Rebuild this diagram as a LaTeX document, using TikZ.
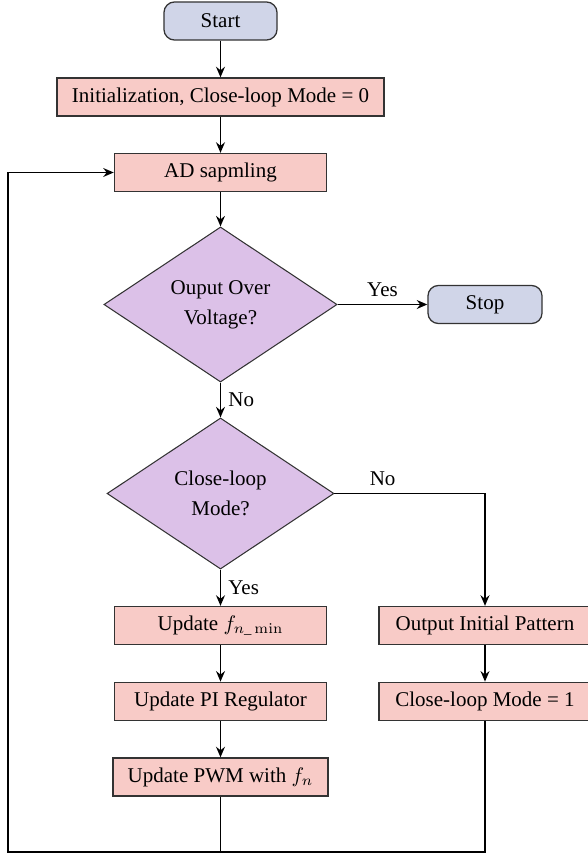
\documentclass[tikz,border=0pt]{standalone}
\usepackage[no-math]{fontspec}
\setmainfont{Liberation Serif}
\usepackage{amssymb,amsmath}
\usepackage{tikz}
\usepackage{xcolor}
\usetikzlibrary{arrows,arrows.meta,shapes.geometric}

\definecolor{termfill}{RGB}{208,213,232}
\definecolor{procfill}{RGB}{248,203,199}
\definecolor{decfill}{RGB}{220,193,232}

\begin{document}
\begin{tikzpicture}[x=0.476pt,y=-0.476pt,
  term/.style={draw=black!80,line width=0.6pt,fill=termfill,rounded corners=5pt,minimum height=18.1pt,inner sep=2pt},
  proc/.style={draw=black!80,line width=0.6pt,fill=procfill,minimum width=101pt,minimum height=18.1pt,inner sep=2pt},
  dec/.style={diamond,draw=black!80,line width=0.5pt,fill=decfill,align=center,inner sep=0pt,font=\linespread{1.2}\selectfont},
  line/.style={line width=0.85pt,-{Stealth[length=5pt,width=4.2pt]}}]

\useasboundingbox (0,0) rectangle (588,858);

\node[term,minimum width=53.8pt] (0) at (220.5,21){Start};
\node[proc,minimum width=155.7pt] (1) at (220.5,97){Initialization, Close-loop Mode = 0};
\node[proc] (2) at (220.5,172.5){AD sapmling};
\node[dec,minimum width=111pt,minimum height=73.8pt] (3) at (220.5,304.5){Ouput Over\\Voltage?};
\node[term,minimum width=54.3pt] (4) at (485,304.5){Stop};
\node[dec,minimum width=108pt,minimum height=71.9pt] (5) at (220.5,493.5){Close-loop\\Mode?};
\node[proc] (6) at (220.5,625.5){Update $f_{n\_\min}$};
\node[proc] (7) at (485,625.5){Output Initial Pattern};
\node[proc] (8) at (220.5,701.3){Update PI Regulator};
\node[proc] (9) at (485,701.3){Close-loop Mode = 1};
\node[proc,minimum width=102.4pt] (10) at (220.5,777){Update PWM with $f_n$};
\coordinate (11) at (8,852);
\draw[line] (0) -- (1);
\draw[line] (1) -- (2);
\draw[line] (2) -- (3);
\draw[line] (3) -- node[above]{Yes} (4);
\draw[line] (3) -- node[right]{No} (5);
\draw[line] (5) -- node[right]{Yes} (6);
\draw[line] (5) -| node[pos=0.16,above]{No} (7);
\draw[line] (6) -- (8);
\draw[line] (8) -- (10);
\draw[line] (7) -- (9);
\draw[line] (10) |- (11) |- (2);
\draw[line width=0.85pt] (9) |- (10 |- 11);

\end{tikzpicture}
\end{document}
